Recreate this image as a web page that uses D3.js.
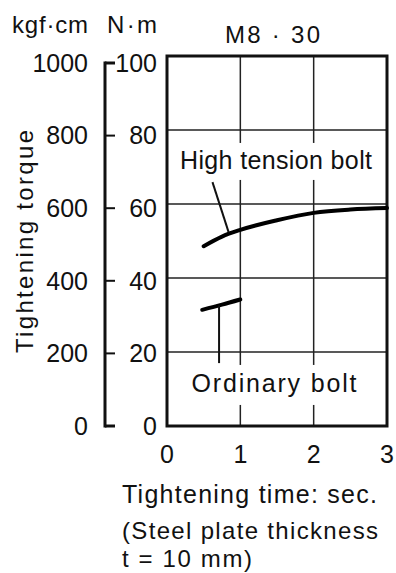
<!DOCTYPE html>
<html>
<head>
<meta charset="utf-8">
<script src="https://cdn.jsdelivr.net/npm/d3@7"></script>
<style>
  html, body { margin: 0; padding: 0; background: #fff; }
  svg { display: block; font-family: "Liberation Sans", Arial, sans-serif; }
  text { fill: #111; }
</style>
</head>
<body>
<svg id="chart" width="396" height="573"></svg>
<script>
// --- chart values ---
const timeTicks = [0, 1, 2, 3];
const nmTicks = [0, 20, 40, 60, 80, 100];
const kgfTicks = [0, 200, 400, 600, 800, 1000];

const highTensionTime = [0.5, 0.75, 1, 1.5, 2, 2.5, 3];
const highTensionTorque = [48.6, 51.2, 53.0, 55.6, 57.6, 58.5, 58.9];

const ordinaryTime = [0.48, 0.75, 1.0];
const ordinaryTorque = [31.4, 32.8, 34.2];

const svg = d3.select('#chart');

const x = d3.scaleLinear().domain([0, 3]).range([167, 387]);
const y = d3.scaleLinear().domain([0, 100]).range([426, 56]);
// the printed torque scale sits a little lower at the top than the grid
const yAxis = d3.scaleLinear().domain([0, 100]).range([426, 63]);
const kgf = d3.scaleLinear().domain([0, 1000]).range([426, 63]);

// grid
const grid = svg.append('g').attr('stroke', '#222').attr('stroke-width', 1.5);
grid.selectAll('line.h')
    .data(nmTicks.slice(1, -1))
    .join('line')
    .attr('x1', x(0)).attr('x2', x(3))
    .attr('y1', d => y(d)).attr('y2', d => y(d));
grid.selectAll('line.v')
    .data(timeTicks.slice(1, -1))
    .join('line')
    .attr('x1', d => x(d)).attr('x2', d => x(d))
    .attr('y1', y(0)).attr('y2', y(100));

// label boxes knock out the grid behind the series names
function label(txt, cx, base, len, box) {
    svg.append('rect')
        .attr('x', box[0]).attr('y', box[1])
        .attr('width', box[2]).attr('height', box[3])
        .attr('fill', '#fff');
    svg.append('text')
        .attr('x', cx).attr('y', base)
        .attr('text-anchor', 'middle')
        .attr('font-size', 25)
        .attr('textLength', len)
        .attr('lengthAdjust', 'spacing')
        .text(txt);
}
label('High tension bolt', x(1.5) - 1, y(69.4), 192, [181, y(76.5), 200, 37]);
label('Ordinary bolt', x(1.5) - 3, y(9.2), 165, [190, y(16.5), 175, 40]);

// frame
svg.append('rect')
    .attr('x', x(0)).attr('y', y(100))
    .attr('width', x(3) - x(0)).attr('height', y(0) - y(100))
    .attr('fill', 'none').attr('stroke', '#111').attr('stroke-width', 3);

// series
const line = d3.line().x(d => x(d[0])).y(d => y(d[1])).curve(d3.curveMonotoneX);
svg.append('path')
    .datum(d3.zip(highTensionTime, highTensionTorque))
    .attr('d', line)
    .attr('fill', 'none').attr('stroke', '#000').attr('stroke-width', 4)
    .attr('stroke-linecap', 'round');
svg.append('path')
    .datum(d3.zip(ordinaryTime, ordinaryTorque))
    .attr('d', line)
    .attr('fill', 'none').attr('stroke', '#000').attr('stroke-width', 4)
    .attr('stroke-linecap', 'round');

// leader lines
svg.append('line')
    .attr('x1', x(0.62)).attr('y1', y(65.9))
    .attr('x2', x(0.84)).attr('y2', y(52.4))
    .attr('stroke', '#111').attr('stroke-width', 2);
svg.append('line')
    .attr('x1', x(0.71)).attr('y1', y(32.6))
    .attr('x2', x(0.71)).attr('y2', y(17))
    .attr('stroke', '#111').attr('stroke-width', 2);

// left (kgf·cm) axis bar
const axisX = 105;
svg.append('line')
    .attr('x1', axisX).attr('x2', axisX)
    .attr('y1', kgf(0) + 1.5).attr('y2', kgf(1000) - 1.5)
    .attr('stroke', '#111').attr('stroke-width', 3);
svg.selectAll('line.tick')
    .data(kgfTicks)
    .join('line')
    .attr('x1', axisX).attr('x2', axisX + 10)
    .attr('y1', d => kgf(d)).attr('y2', d => kgf(d))
    .attr('stroke', '#111').attr('stroke-width', d => (d === 0 || d === 1000) ? 3 : 2);

svg.selectAll('text.kgf')
    .data(kgfTicks)
    .join('text')
    .attr('x', 88).attr('y', d => kgf(d))
    .attr('dy', '0.35em')
    .attr('text-anchor', 'end')
    .attr('font-size', 25)
    .text(d => d);

svg.selectAll('text.nm')
    .data(nmTicks)
    .join('text')
    .attr('x', 157).attr('y', d => yAxis(d))
    .attr('dy', '0.35em')
    .attr('text-anchor', 'end')
    .attr('font-size', 25)
    .text(d => d);

svg.selectAll('text.time')
    .data(timeTicks)
    .join('text')
    .attr('x', d => x(d)).attr('y', 463)
    .attr('text-anchor', 'middle')
    .attr('font-size', 25)
    .text(d => d);

// units and titles
svg.append('text').attr('x', 12).attr('y', 33).attr('font-size', 24)
    .attr('textLength', 76).attr('lengthAdjust', 'spacing').text('kgf·cm');
svg.append('text').attr('x', 107).attr('y', 33).attr('font-size', 24)
    .attr('textLength', 50).attr('lengthAdjust', 'spacing').text('N·m');
svg.append('text').attr('x', 225).attr('y', 43).attr('font-size', 24)
    .attr('textLength', 95).attr('lengthAdjust', 'spacing').text('M8 · 30');

svg.append('text')
    .attr('transform', 'translate(33,241.5) rotate(-90)')
    .attr('text-anchor', 'middle')
    .attr('font-size', 24)
    .attr('textLength', 223).attr('lengthAdjust', 'spacing')
    .text('Tightening torque');

const xTitle = [
    ['Tightening time: sec.', 503, 255, 25],
    ['(Steel plate thickness', 539, 256, 24],
    ['t = 10 mm)', 567, 130, 24]
];
xTitle.forEach(([t, base, len, fs]) => {
    svg.append('text')
        .attr('x', 122).attr('y', base)
        .attr('font-size', fs)
        .attr('textLength', len).attr('lengthAdjust', 'spacing')
        .text(t);
});
</script>
</body>
</html>
